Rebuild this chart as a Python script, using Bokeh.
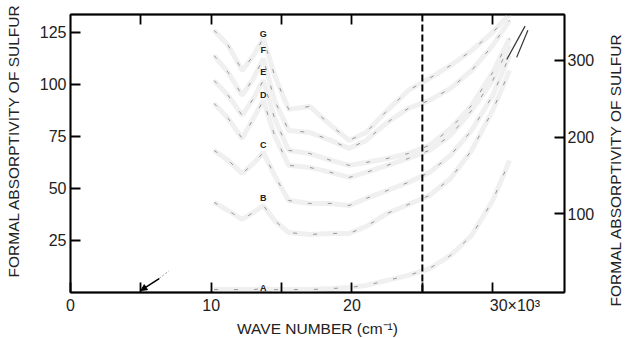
import math
from bokeh.plotting import figure
from bokeh.layouts import row
from bokeh.core.properties import value
from bokeh.models import (LinearAxis, Range1d, FixedTicker, Span,
                          ColumnDataSource, Arrow, NormalHead)
from bokeh.embed import file_html
from bokeh.resources import INLINE

# ---------------- data (wave number in 10^3 cm^-1, absorptivity) -------------
wave = [10.2, 11.2, 12.2, 13.0, 13.7, 14.5, 15.5, 17.0, 18.5, 19.8,
        21.0, 22.5, 24.0, 25.5, 27.0, 28.5, 30.0, 31.2]
curve_A = [1.4, 1.4, 1.4, 1.4, 1.9, 1.4, 1.4, 1.4, 1.9, 2.4,
           3.4, 5.8, 8.2, 11.5, 17.8, 27.4, 44.2, 63.5]
curve_B = [43.3, 39.4, 35.1, 38.5, 41.8, 34.6, 28.8, 27.9, 28.4, 28.4,
           31.7, 38.0, 42.3, 46.6, 54.8, 68.3, 87.5, 106.7]
curve_C = [68.3, 63.5, 57.2, 62.0, 67.3, 56.3, 44.2, 42.8, 42.8, 41.8,
           45.2, 49.0, 52.9, 57.7, 65.9, 77.9, 94.7, 113.9]
curve_D = [90.9, 83.7, 74.0, 83.7, 92.3, 75.5, 61.1, 60.1, 57.7, 55.3,
           57.7, 61.1, 64.4, 68.3, 75.5, 87.5, 101.9, 118.8]
curve_E = [101.9, 94.7, 85.1, 93.3, 101.9, 83.7, 68.3, 66.8, 63.5, 61.1,
           62.5, 64.4, 66.8, 70.7, 78.8, 89.9, 105.8, 122.1]
curve_F = [113.9, 105.8, 94.7, 102.9, 112.5, 92.3, 77.9, 76.9, 73.1, 69.2,
           73.1, 81.7, 88.5, 92.3, 98.1, 106.7, 118.8, 130.8]
curve_G = [126.0, 118.8, 106.7, 113.9, 122.1, 104.3, 88.0, 89.4, 80.3, 73.1,
           76.9, 87.5, 97.1, 102.9, 109.1, 116.3, 125.0, 133.7]
curves = [curve_A, curve_B, curve_C, curve_D, curve_E, curve_F, curve_G]

curve_names = ["A", "B", "C", "D", "E", "F", "G"]
name_x = [13.7] * 7
name_y = [2.4, 45.2, 70.7, 94.7, 105.8, 116.3, 124.0]

x_ticks = [0, 5, 10, 15, 20, 25, 30]
x_labels = {0: "0", 5: "", 10: "10", 15: "", 20: "20", 25: "",
            30: "\u2007" * 5 + "30×10³"}
top_ticks = [5, 10, 15, 20, 30]
left_ticks = [25, 50, 75, 100, 125]
right_ticks = [100, 200, 300]
cut_line = 25.0
y_title = "FORMAL ABSORPTIVITY OF SULFUR"

arrow_tail = (6.3, 6.7)
arrow_head = (5.0, 1.0)
arrow_trail_x = [6.3, 7.0]
arrow_trail_y = [6.7, 10.5]
mark1_x = [31.0, 32.3]
mark1_y = [112.0, 128.0]
mark2_x = [31.7, 32.5]
mark2_y = [113.0, 126.0]

FONT = "Liberation Sans"

p = figure(frame_width=494, frame_height=278, output_backend="svg",
           toolbar_location=None,
           x_range=Range1d(0, 35.1), y_range=Range1d(0, 133.6),
           min_border_left=70, min_border_right=40, min_border_top=14,
           min_border_bottom=46)
p.grid.visible = False
p.outline_line_color = "black"
p.outline_line_width = 1.5
p.background_fill_color = "white"
p.border_fill_color = "white"
p.extra_y_ranges = {"right": Range1d(-3, 360)}

def style(ax):
    ax.axis_line_color = "black"
    ax.axis_line_width = 1.8
    ax.major_tick_line_color = "black"
    ax.major_tick_line_width = 1.8
    ax.major_tick_in = 10
    ax.major_tick_out = 0
    ax.minor_tick_line_color = None
    ax.major_label_text_font = FONT
    ax.major_label_text_font_size = "16px"
    ax.major_label_text_color = "#222"
    ax.axis_label_text_font = FONT
    ax.axis_label_text_font_size = "15.5px"
    ax.axis_label_text_font_style = "normal"
    ax.axis_label_text_color = "#222"

xa = p.xaxis[0]
style(xa)
xa.ticker = FixedTicker(ticks=x_ticks)
xa.major_label_overrides = x_labels
xa.axis_label = "WAVE NUMBER (cm⁻¹)"
xa.major_label_standoff = 4
xa.axis_label_standoff = 3

ya = p.yaxis[0]
style(ya)
ya.ticker = FixedTicker(ticks=left_ticks)
ya.axis_label = "\u2007" * 3 + y_title
ya.major_label_standoff = 4
ya.axis_label_standoff = 15

ra = LinearAxis(y_range_name="right")
style(ra)
ra.ticker = FixedTicker(ticks=right_ticks)
ra.major_label_standoff = 3
p.add_layout(ra, "right")

ta = LinearAxis()
style(ta)
ta.ticker = FixedTicker(ticks=top_ticks)
ta.major_label_overrides = {t: "" for t in top_ticks}
ta.major_label_standoff = 0
p.add_layout(ta, "above")

# curves: faint grey bands with sparse darker strokes (faded print)
for c in curves:
    src = ColumnDataSource(dict(x=wave, y=c))
    p.line("x", "y", source=src, line_color="#f0f0f0", line_width=5)
    p.line("x", "y", source=src, line_color="#959595", line_width=1,
           line_dash="4 16")

p.text(x=name_x, y=name_y, text=curve_names, text_font_size="9px",
       text_font_style="bold", text_align="center", text_baseline="middle",
       text_color="#222", text_font=value(FONT))

p.add_layout(Span(location=cut_line, dimension="height", line_color="black",
                  line_width=2, line_dash="7 3"))

p.line(arrow_trail_x, arrow_trail_y, line_color="#999", line_width=1,
       line_dash="2 2")
p.add_layout(Arrow(end=NormalHead(size=6, fill_color="black"),
                   x_start=arrow_tail[0], y_start=arrow_tail[1],
                   x_end=arrow_head[0], y_end=arrow_head[1],
                   line_width=1.5, line_color="black"))
p.line(mark1_x, mark1_y, line_color="#333", line_width=1.2)
p.line(mark2_x, mark2_y, line_color="#333", line_width=1.2)

# right-hand axis title (reads bottom-to-top like the left one)
p2 = figure(frame_width=21, frame_height=338, output_backend="svg",
            toolbar_location=None, x_range=Range1d(0, 21),
            y_range=Range1d(338, 0), min_border=0)
p2.axis.visible = False
p2.grid.visible = False
p2.outline_line_color = None
p2.text(x=[11], y=[155], text=[y_title], angle=math.pi / 2,
        text_align="center", text_baseline="middle", text_font=value(FONT),
        text_font_size="15.5px", text_color="#222")

layout = row(p, p2, spacing=0)
open("out.html", "w").write(file_html(layout, INLINE))
